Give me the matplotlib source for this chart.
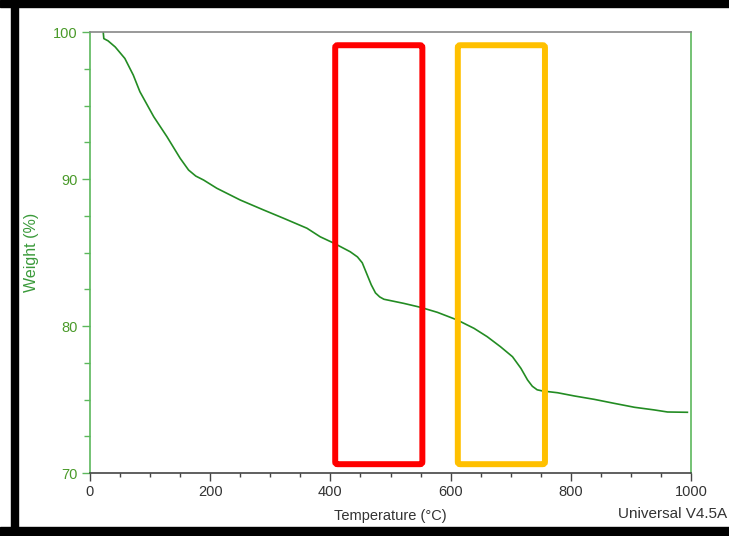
import matplotlib as mpl
mpl.use('Agg')
import matplotlib.pyplot as plt
from matplotlib.patches import Rectangle, FancyBboxPatch
from matplotlib.ticker import MultipleLocator

plt.rcParams['font.family'] = ['Liberation Sans', 'DejaVu Sans']

# TGA curve
temperature = [22, 23, 30, 42, 58, 72, 83, 106, 128, 150, 164, 176, 189, 211, 250, 289,
               322, 361, 383, 406, 433, 445, 453, 461, 468, 475, 482, 489, 522, 550,
               578, 611, 639, 661, 683, 703, 717, 728, 736, 744, 753, 778, 806, 839,
               872, 906, 939, 961, 994]
weight = [100.0, 99.55, 99.4, 98.98, 98.2, 97.07, 95.94, 94.24, 92.88, 91.41, 90.61,
          90.2, 89.93, 89.37, 88.57, 87.89, 87.33, 86.65, 86.07, 85.63, 85.05, 84.7,
          84.3, 83.5, 82.8, 82.25, 81.98, 81.82, 81.54, 81.27, 80.93, 80.41, 79.84,
          79.27, 78.59, 77.91, 77.12, 76.33, 75.9, 75.66, 75.58, 75.46, 75.24,
          75.01, 74.74, 74.47, 74.29, 74.15, 74.13]

# highlighted regions (x0, x1) in degC, (y0, y1) in %
boxes = [((408, 553), (70.6, 99.1), '#ff0000'),
         ((612, 757), (70.6, 99.1), '#ffc000')]

fig = plt.figure(figsize=(7.29, 5.36), dpi=100)
ax = fig.add_axes([90/729, 63/536, 601/729, 441/536])

ax.plot(temperature, weight, color='#238c23', lw=1.2)

for (x0, x1), (y0, y1), c in boxes:
    ax.add_patch(FancyBboxPatch((x0, y0), x1 - x0, y1 - y0,
                                boxstyle='round,pad=0,rounding_size=4',
                                fill=False, edgecolor=c, lw=4.3,
                                mutation_aspect=0.04, zorder=3))

ax.set_xlim(0, 1000)
ax.set_ylim(70, 100)
ax.xaxis.set_major_locator(MultipleLocator(200))
ax.xaxis.set_minor_locator(MultipleLocator(50))
ax.yaxis.set_major_locator(MultipleLocator(10))
ax.yaxis.set_minor_locator(MultipleLocator(2.5))

ax.spines['left'].set_color('#5cb85c')
ax.spines['right'].set_color('#5cb85c')
ax.spines['top'].set_color('#888888')
ax.spines['bottom'].set_color('#444444')
for s in ax.spines.values():
    s.set_linewidth(1.2)

ax.tick_params(axis='x', which='major', length=6, width=1, color='#444444',
               labelsize=10.5, labelcolor='#333333', pad=3)
ax.tick_params(axis='x', which='minor', length=3, width=1, color='#444444')
ax.tick_params(axis='y', which='major', length=6, width=1, color='#5cb85c',
               labelsize=10.5, labelcolor='#4a9a2a', pad=3)
ax.tick_params(axis='y', which='minor', length=4, width=1, color='#5cb85c')

ax.set_xlabel('Temperature (°C)', fontsize=10.5, color='#333333', labelpad=7)
ax.set_ylabel('Weight (%)', fontsize=11.5, color='#3a9a3a', labelpad=10)

fig.text(618/729, 1 - 514/536, 'Universal V4.5A', fontsize=11, color='#333333',
         va='center', ha='left')

# black frame round the screenshot
fig.patches.append(Rectangle((0, 1 - 7/536), 1, 7/536, transform=fig.transFigure,
                             color='black', zorder=10))
fig.patches.append(Rectangle((11/729, 0), 7/729, 1, transform=fig.transFigure,
                             color='black', zorder=10))
fig.patches.append(Rectangle((0, 0), 1, 9/536, transform=fig.transFigure,
                             color='black', zorder=10))
fig.patches.append(Rectangle((0, 0), 11/729, 1, transform=fig.transFigure,
                             color='white', zorder=9))

fig.savefig('out.png', dpi=100)
